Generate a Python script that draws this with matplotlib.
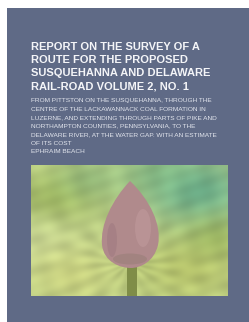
import numpy as np
import matplotlib
matplotlib.use("Agg")
import matplotlib.pyplot as plt
from matplotlib.patches import Rectangle, PathPatch, Ellipse
from matplotlib.path import Path

# ---- content ----
title_lines = [
    "REPORT ON THE SURVEY OF A",
    "ROUTE FOR THE PROPOSED",
    "SUSQUEHANNA AND DELAWARE",
    "RAIL-ROAD VOLUME 2, NO. 1",
]
subtitle_lines = [
    "FROM PITTSTON ON THE SUSQUEHANNA, THROUGH THE",
    "CENTRE OF THE LACKAWANNACK COAL FORMATION IN",
    "LUZERNE, AND EXTENDING THROUGH PARTS OF PIKE AND",
    "NORTHAMPTON COUNTIES, PENNSYLVANIA, TO THE",
    "DELAWARE RIVER, AT THE WATER GAP. WITH AN ESTIMATE",
    "OF ITS COST",
]
author = "EPHRAIM BEACH"

W, H = 249, 322
BG = "#5f6a86"

fig = plt.figure(figsize=(W / 100, H / 100), dpi=100)
fig.patch.set_facecolor("white")
ax = fig.add_axes([0, 0, 1, 1])
ax.set_xlim(0, W)
ax.set_ylim(H, 0)
ax.axis("off")

# cover panel
ax.add_patch(Rectangle((7, 8), W - 7, H - 8, facecolor=BG, edgecolor="none"))

# title
ty = [47, 60, 73, 86]
for y, s in zip(ty, title_lines):
    ax.text(31, y, s, color="#f4f5f8", fontsize=8.05, fontweight="bold",
            family="Liberation Sans", va="center", ha="left")

# subtitle
sy0, sdy = 100.7, 8.5
for i, s in enumerate(subtitle_lines + [author]):
    ax.text(31, sy0 + i * sdy, s, color="#e3e6ee", fontsize=4.65,
            family="Liberation Sans", va="center", ha="left")

# ---- painting ----
x0, x1, y0, y1 = 31, 228, 165, 296
nx, ny = 200, 134
u = np.linspace(0, 1, nx)[None, :]
v = np.linspace(0, 1, ny)[:, None]
base = np.array([188, 206, 135], float)
img = np.ones((ny, nx, 3)) * base

def blob(cx, cy, r, col, strength=1.0):
    global img
    w = strength * np.exp(-(((u - cx) ** 2 + (v - cy) ** 2) / (2 * r ** 2)))
    img = img * (1 - w[..., None]) + np.array(col, float) * w[..., None]

blob(0.85, 0.2, 0.2, (95, 170, 140), 0.85)
blob(0.65, 0.05, 0.14, (120, 180, 130), 0.6)
blob(0.12, 0.25, 0.16, (150, 175, 85), 0.75)
blob(0.3, 0.1, 0.12, (130, 180, 125), 0.5)
blob(0.05, 0.6, 0.15, (205, 218, 155), 0.7)
blob(0.2, 0.85, 0.18, (205, 210, 125), 0.7)
blob(0.8, 0.8, 0.2, (180, 190, 95), 0.65)
blob(0.95, 0.55, 0.12, (145, 172, 80), 0.55)

ang = np.arctan2(v - 0.75, u - 0.5)
streak = 0.035 * np.sin(ang * 14) + 0.04 * np.sin(u * 37 + v * 23) * np.cos(v * 29 - u * 11)
img = img * (1 + streak[..., None])
img = np.clip(img, 0, 255) / 255
ax.imshow(img, extent=(x0, x1, y1, y0), aspect="auto", interpolation="bilinear", zorder=2)

# stem
ax.add_patch(Rectangle((127, 258), 10, y1 - 258, facecolor="#7f8d48", edgecolor="none", zorder=3))

# bud
verts = [(130, 181), (150, 200), (162, 225), (158, 245),
         (154, 262), (140, 268), (131, 268),
         (120, 268), (104, 262), (102, 245),
         (100, 225), (112, 200), (130, 181)]
codes = [Path.MOVETO] + [Path.CURVE4] * 12
ax.add_patch(PathPatch(Path(verts, codes), facecolor="#b08a8c", edgecolor="none", zorder=4))
ax.add_patch(Ellipse((143, 228), 16, 38, facecolor="#c49ea0", edgecolor="none", alpha=0.45, zorder=5))
ax.add_patch(Ellipse((112, 240), 10, 34, facecolor="#8f6c76", edgecolor="none", alpha=0.3, zorder=5))
ax.add_patch(Ellipse((130, 259), 34, 11, facecolor="#8d7a70", edgecolor="none", alpha=0.4, zorder=5))

fig.savefig("out.png", dpi=100, facecolor="white")
